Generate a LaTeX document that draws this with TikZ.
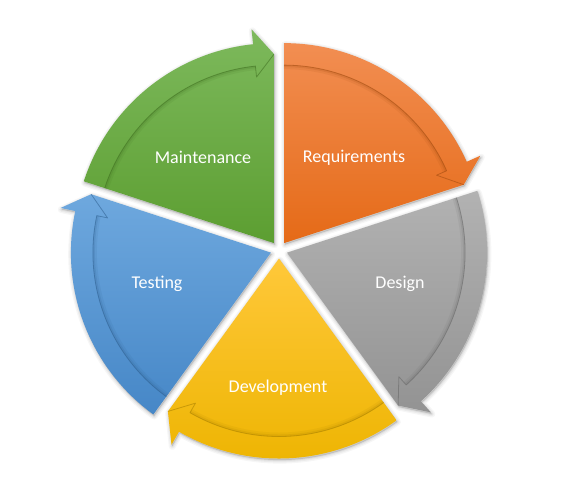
\documentclass[tikz,border=0pt]{standalone}
\usepackage{fontspec}
\setmainfont{Carlito}
\usetikzlibrary{calc}

% colours of the five phases (top / bottom of the gradient, edge shade)
\definecolor{grnT}{HTML}{7DB95C}\definecolor{grnB}{HTML}{5C9E31}\definecolor{grnE}{HTML}{3E6E1F}
\definecolor{ornT}{HTML}{F28E52}\definecolor{ornB}{HTML}{E56A17}\definecolor{ornE}{HTML}{A04A0E}
\definecolor{gryT}{HTML}{B2B2B2}\definecolor{gryB}{HTML}{939393}\definecolor{gryE}{HTML}{666666}
\definecolor{ylwT}{HTML}{FFC83A}\definecolor{ylwB}{HTML}{EDB400}\definecolor{ylwE}{HTML}{A67E00}
\definecolor{bluT}{HTML}{6EA8DE}\definecolor{bluB}{HTML}{4687C7}\definecolor{bluE}{HTML}{2E5F8F}

\tikzset{
  segpath/.style={insert path={(0,0) -- (\ta:200)
      arc[start angle=\ta, end angle=\th, radius=200]
      -- (\th:215) -- (\tb:189) -- cycle}},
  lbl/.style={text=white, font=\fontsize{18}{22}\selectfont, inner sep=0pt}
}

% one exploded segment: #1 start angle (tail of its arrow), #2 colour prefix
\newcommand\cycleseg[2]{%
  \pgfmathsetmacro\ta{#1}%
  \pgfmathsetmacro\tb{#1-72}%
  \pgfmathsetmacro\tm{#1-36}%
  \pgfmathsetmacro\th{#1-66}%
  \begin{scope}[shift={($(C)+(\tm:8.5)$)}]
    % soft halo underneath
    \foreach \w/\o in {7/0.035,4.5/0.045,2/0.06}{%
      \filldraw[black, opacity=\o, line width=\w pt, line join=round,
                xshift=0.8pt, yshift=-1.6pt] [segpath];}
    % segment body with its rim arrow
    \shade[top color=#2T, bottom color=#2B] [segpath];
    % shadow cast by the rim arrow onto the segment
    \draw[#2E, opacity=0.10, line width=4pt]
      (\ta:176) arc[start angle=\ta, end angle=\th, radius=176];
    \draw[#2E, opacity=0.16, line width=2pt]
      (\ta:177) arc[start angle=\ta, end angle=\th, radius=177];
    \draw[#2E, opacity=0.55, line width=0.8pt, line join=round]
      (\ta:178) arc[start angle=\ta, end angle=\th, radius=178]
      -- (\th:167) -- (\tb:189);
  \end{scope}}

\begin{document}
\begin{tikzpicture}[x=1pt,y=1pt]
  \useasboundingbox (0,0) rectangle (561,-499);
  \coordinate (C) at (279,-250);

  \cycleseg{162}{grn}
  \cycleseg{90}{orn}
  \cycleseg{18}{gry}
  \cycleseg{-54}{ylw}
  \cycleseg{-126}{blu}

  \node[lbl] (maint) at (203,-157) {Maintenance};
  \node[lbl] (req)   at (354,-158) {Requirements};
  \node[lbl] (des)   at (400,-284) {Design};
  \node[lbl] (dev)   at (278,-388) {Development};
  \node[lbl] (test)  at (157,-284) {Testing};
\end{tikzpicture}
\end{document}
